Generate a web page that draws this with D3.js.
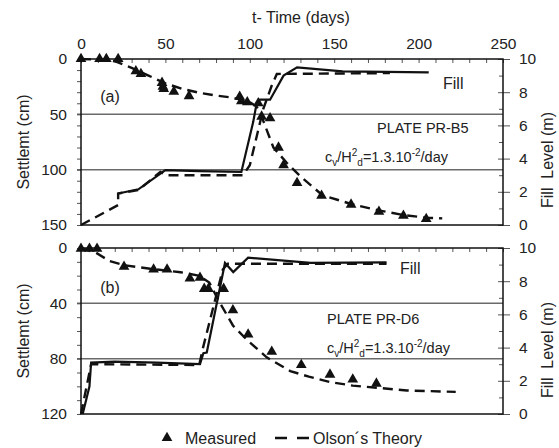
<!DOCTYPE html>
<html><head><meta charset="utf-8">
<script src="https://cdn.jsdelivr.net/npm/d3@7"></script>
<style>
body{margin:0;background:#fff;}
text{font-family:"Liberation Sans",Arial,sans-serif;fill:#222;}
</style></head>
<body><svg id="c" width="559" height="448"></svg>
<script>
// ---------- data ----------
const xTicks = [0, 50, 100, 150, 200, 250];
const fillTicks = [0, 2, 4, 6, 8, 10];
const settleTicksA = [0, 50, 100, 150];
const settleTicksB = [0, 40, 80, 120];

// Panel (a) PLATE PR-B5 : [day, settlement cm]
const measuredA = [[0,0],[11,0],[15,0],[22,0],[32.5,11],[35.5,13.5],[48,21.5],[48.5,25],[49,27],[55,29.5],[64,33.5],[94,34],[95,38],[98.5,39],[105,40],[107,52],[112,53.5],[117,80],[120,96],[128,112],[142.5,123.5],[160,131.5],[176.5,138],[191,141.5],[204.5,144.5]];
const olsonA = [[0,0],[10,0.5],[20,2],[30,8],[40,15],[50,22],[60,27],[70,30.5],[80,33],[90,35],[100,39],[104,43],[106,48],[110,64],[114,80],[122,94],[130,106],[143,123],[160,131],[177,137],[191,141],[205,143.5],[214,144]];
// Fill level (m)
const fillMeasA = [[22,1.9],[34,2.15],[50,3.3],[70,3.25],[95,3.2],[102,6.2],[104,7.3],[106,7.55],[112,7.55],[120,9.0],[128,9.5],[155,9.25],[206,9.2]];
const fillOlsonA = [[0,0],[22,1.2],[22,1.9],[34,2.1],[47,3.2],[50,3.0],[96,3.0],[100,3.6],[108,7.0],[113,8.4],[116,9.1],[183,9.15]];

// Panel (b) PLATE PR-D6
const measuredB = [[0,0.5],[5,0.5],[9.5,0.5],[25.5,13.5],[43,15.5],[51,15.5],[64.5,22],[70.5,21.5],[73,29.5],[75.5,29.5],[84.5,29.5],[90,45],[99,62.5],[113,75],[130.5,84.5],[147.5,91.5],[161,95],[175,98]];
const olsonB = [[0,0],[9,3.5],[17,9.5],[26,12.5],[41,15],[59,17.5],[70,20],[76,25],[82,39],[90,56],[98,66],[110,79],[124,89],[135,93],[148,97],[161,99.5],[175,101],[193,103],[222,104]];
const fillMeasB = [[1,0],[5,1.65],[6,3.1],[20,3.15],[45,3.1],[70.5,3.0],[72.5,3.66],[74.5,3.7],[85.3,9.1],[90.2,8.55],[99,9.42],[136,9.1],[181,9.14]];
const fillOlsonB = [[0,0],[6,3.0],[70,2.95],[72.3,4.0],[84,8.7],[87,9.05],[181,9.05]];

// ---------- layout ----------
const svg = d3.select("#c");
const x = d3.scaleLinear().domain([0, 250]).range([81, 503]);
const panels = [
  {top:59, bot:225, sMax:150, sTicks:settleTicksA, minor:10, meas:measuredA, olson:olsonA, fm:fillMeasA, fo:fillOlsonA,
   grid:[50,100], tag:"(a)", plate:"PLATE PR-B5", plateX:377, plateY:128, cvX:325, cvY:157, fillX:443, fillY:83, tagY:96, rtY:160},
  {top:248, bot:414, sMax:120, sTicks:settleTicksB, minor:10, meas:measuredB, olson:olsonB, fm:fillMeasB, fo:fillOlsonB,
   grid:[40,80], tag:"(b)", plate:"PLATE PR-D6", plateX:327, plateY:319, cvX:327, cvY:348, fillX:400, fillY:268, tagY:287, rtY:350}
];
const dash = "10,6";
const triSize = 50;

panels.forEach((p, i) => {
  const y = d3.scaleLinear().domain([0, p.sMax]).range([p.top, p.bot]);
  const yf = d3.scaleLinear().domain([0, 10]).range([p.bot, p.top]);
  const g = svg.append("g");

  // gridlines
  g.selectAll(".grid").data(p.grid).join("line")
    .attr("x1", 77).attr("x2", x.range()[1])
    .attr("y1", d => y(d)).attr("y2", d => y(d))
    .attr("stroke", "#6a6a6a").attr("stroke-width", 1.5);

  // top minor ticks (inside)
  const topAx = d3.axisBottom(x).tickValues(d3.range(0, 251, 10)).tickSize(4).tickFormat("");
  g.append("g").attr("transform", `translate(0,${p.top})`).call(topAx)
    .call(a => a.select(".domain").remove())
    .selectAll("line").attr("stroke", "#555");
  if (i === 0) {
    const lab = d3.axisTop(x).tickValues(xTicks).tickSize(0).tickPadding(10);
    g.append("g").attr("transform", `translate(0,${p.top})`).call(lab)
      .call(a => a.select(".domain").remove())
      .selectAll("text").attr("font-size", 15.5).attr("font-family", "Liberation Sans, Arial");
  }

  // left axis
  const leftMinor = d3.axisLeft(y).tickValues(d3.range(0, p.sMax + 1, p.minor)).tickSize(4).tickFormat("");
  g.append("g").attr("transform", `translate(81,0)`).call(leftMinor)
    .call(a => a.select(".domain").remove())
    .selectAll("line").attr("stroke", "#555");
  const leftLab = d3.axisLeft(y).tickValues(p.sTicks).tickSize(0).tickPadding(14);
  g.append("g").attr("transform", `translate(81,0)`).call(leftLab)
    .call(a => a.select(".domain").remove())
    .selectAll("text").attr("font-size", 15.5).attr("font-family", "Liberation Sans, Arial");

  // right axis
  const rMajor = d3.axisRight(yf).tickValues(fillTicks).tickSize(7).tickPadding(9);
  g.append("g").attr("transform", `translate(503,0)`).call(rMajor)
    .call(a => a.select(".domain").remove())
    .call(a => a.selectAll("line").attr("x1", -5).attr("stroke", "#555"))
    .selectAll("text").attr("font-size", 15.5).attr("font-family", "Liberation Sans, Arial");
  const rMinor = d3.axisLeft(yf).tickValues([1,3,5,7,9]).tickSize(4).tickFormat("");
  g.append("g").attr("transform", `translate(503,0)`).call(rMinor)
    .call(a => a.select(".domain").remove())
    .selectAll("line").attr("stroke", "#555");

  // lines
  const lineS = d3.line().x(d => x(d[0])).y(d => y(d[1]));
  const lineF = d3.line().x(d => x(d[0])).y(d => yf(d[1]));
  g.append("path").attr("d", lineF(p.fm)).attr("fill", "none").attr("stroke", "#111").attr("stroke-width", 2.2);
  g.append("path").attr("d", lineF(p.fo)).attr("fill", "none").attr("stroke", "#111").attr("stroke-width", 2.4).attr("stroke-dasharray", dash);
  g.append("path").attr("d", lineS(p.olson)).attr("fill", "none").attr("stroke", "#111").attr("stroke-width", 2.4).attr("stroke-dasharray", dash);

  // markers
  g.selectAll(".m").data(p.meas).join("path")
    .attr("d", d3.symbol(d3.symbolTriangle, triSize))
    .attr("transform", d => `translate(${x(d[0])},${y(d[1])})`)
    .attr("fill", "#111");

  // frame
  g.append("rect").attr("x", 81).attr("y", p.top).attr("width", 503 - 81).attr("height", p.bot - p.top)
    .attr("fill", "none").attr("stroke", "#111").attr("stroke-width", 1.5);

  // texts
  g.append("text").attr("x", 110).attr("y", p.tagY).attr("dy", "0.35em").attr("text-anchor", "middle")
    .attr("font-size", 16).text(p.tag);
  g.append("text").attr("x", p.fillX).attr("y", p.fillY).attr("dy", "0.35em").attr("font-size", 16).text("Fill");
  g.append("text").attr("x", p.plateX).attr("y", p.plateY).attr("dy", "0.35em").attr("font-size", 14.5).text(p.plate);
  const cv = g.append("text").attr("x", p.cvX).attr("y", p.cvY).attr("dy", "0.35em").attr("font-size", 14.5);
  cv.append("tspan").text("c");
  cv.append("tspan").attr("font-size", 10).attr("dy", 4).text("v");
  cv.append("tspan").attr("dy", -4).text("/H");
  cv.append("tspan").attr("font-size", 10).attr("dy", -6).text("2");
  cv.append("tspan").attr("font-size", 10).attr("dy", 10).text("d");
  cv.append("tspan").attr("dy", -4).text("=1.3.10");
  cv.append("tspan").attr("font-size", 10).attr("dy", -6).text("-2");
  cv.append("tspan").attr("dy", 6).text("/day");

  g.append("text").attr("transform", `translate(23,${(p.top + p.bot) / 2}) rotate(-90)`)
    .attr("dy", "0.35em").attr("text-anchor", "middle").attr("font-size", 16).text("Settlemt (cm)");
  g.append("text").attr("transform", `translate(547,${p.rtY}) rotate(-90)`)
    .attr("dy", "0.35em").attr("text-anchor", "middle").attr("font-size", 16)
    .style("white-space", "pre").text("Fill  Level (m)");
});

// x title
svg.append("text").attr("x", 301).attr("y", 17).attr("dy", "0.35em").attr("text-anchor", "middle")
  .attr("font-size", 16).text("t- Time (days)");

// legend
svg.append("path").attr("d", d3.symbol(d3.symbolTriangle, triSize)).attr("transform", "translate(167,438)").attr("fill", "#111");
svg.append("text").attr("x", 185).attr("y", 438).attr("dy", "0.35em").attr("font-size", 16).text("Measured");
svg.append("line").attr("x1", 275).attr("x2", 309).attr("y1", 438).attr("y2", 438)
  .attr("stroke", "#111").attr("stroke-width", 2.4).attr("stroke-dasharray", "12,10");
svg.append("text").attr("x", 313).attr("y", 438).attr("dy", "0.35em").attr("font-size", 16).text("Olson´s Theory");
</script></body></html>
